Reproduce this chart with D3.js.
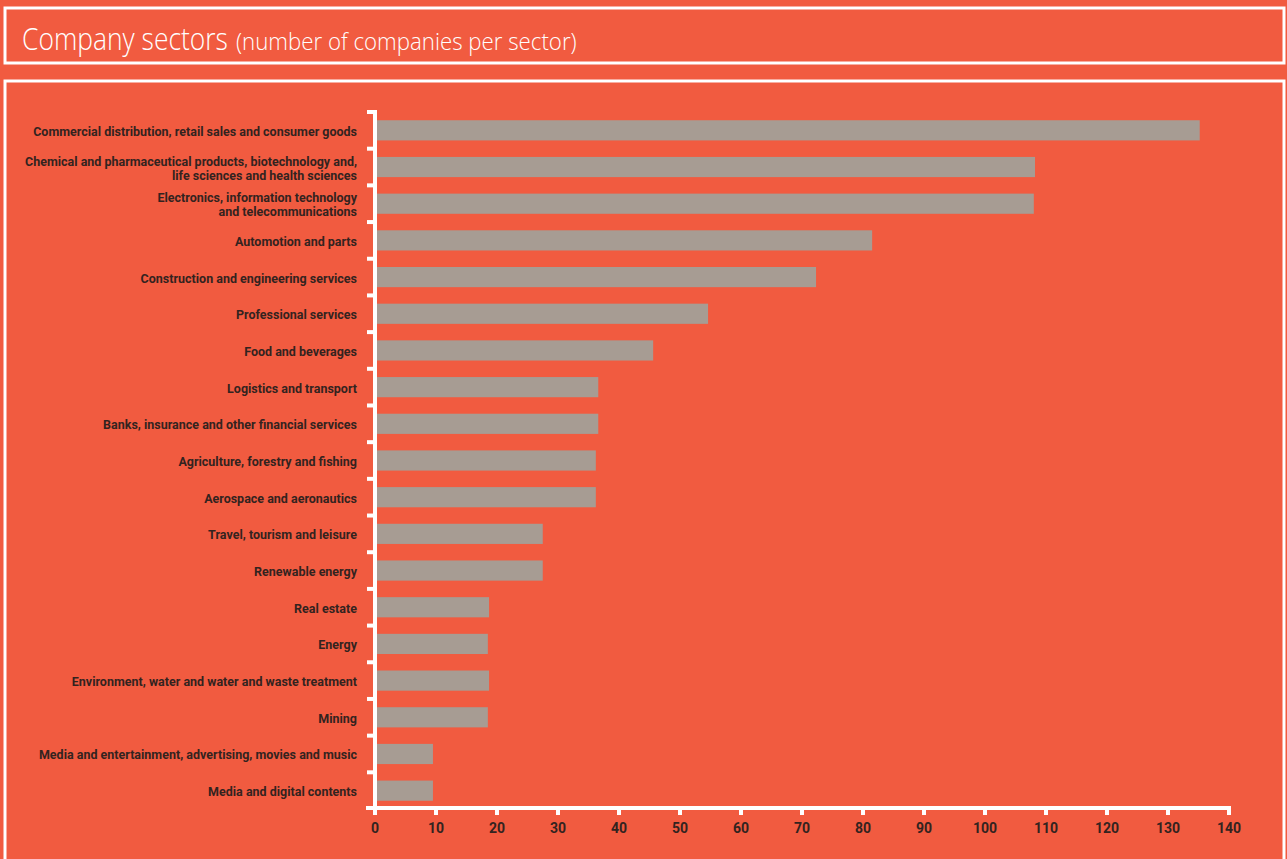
<!DOCTYPE html>
<html>
<head>
<meta charset="utf-8">
<script src="https://cdn.jsdelivr.net/npm/d3@7"></script>
<style>
  html, body { margin: 0; padding: 0; background: #F15B40; overflow: hidden; }
  svg { display: block; }
</style>
</head>
<body>
<svg id="chart" width="1287" height="859"></svg>
<script>
'use strict';

// sectors, top to bottom (multi-line labels split with |)
var sectors = [
    'Commercial distribution, retail sales and consumer goods',
    'Chemical and pharmaceutical products, biotechnology and,|life sciences and health sciences',
    'Electronics, information technology|and telecommunications',
    'Automotion and parts',
    'Construction and engineering services',
    'Professional services',
    'Food and beverages',
    'Logistics and transport',
    'Banks, insurance and other financial services',
    'Agriculture, forestry and fishing',
    'Aerospace and aeronautics',
    'Travel, tourism and leisure',
    'Renewable energy',
    'Real estate',
    'Energy',
    'Environment, water and water and waste treatment',
    'Mining',
    'Media and entertainment, advertising, movies and music',
    'Media and digital contents'
];

// number of companies
var companies = [135.2, 108.2, 108.0, 81.5, 72.3, 54.6, 45.6, 36.6, 36.6, 36.2,
                 36.2, 27.5, 27.5, 18.7, 18.5, 18.7, 18.5, 9.5, 9.5];

var xTicks = [0, 10, 20, 30, 40, 50, 60, 70, 80, 90, 100, 110, 120, 130, 140];

var barColor = '#A79C93',
    ink = '#33231F';

var svg = d3.select('#chart');

// frames
svg.append('rect')
    .attr('x', 5).attr('y', 8).attr('width', 1279).attr('height', 55)
    .attr('fill', 'none').attr('stroke', '#fff').attr('stroke-width', 3);
svg.append('rect')
    .attr('x', 5).attr('y', 81).attr('width', 1279).attr('height', 800)
    .attr('fill', 'none').attr('stroke', '#fff').attr('stroke-width', 3);

// title: squeeze each part to the narrow face of the original
function squeezed(str, size, left, width) {
    var t = svg.append('text')
        .attr('fill', '#fff')
        .style('font-family', '"Open Sans", sans-serif')
        .style('font-weight', 300)
        .style('font-size', size + 'px')
        .text(str);
    var w = t.node().getComputedTextLength();
    t.attr('transform', 'translate(' + left + ',50) scale(' + (width / w) + ',1)');
}
squeezed('Company sectors', 32, 22, 206);
squeezed('(number of companies per sector)', 23.5, 236, 341);

// scales
var x = d3.scaleLinear().domain([0, 140]).range([375, 1229]);
var y = d3.scaleBand()
    .domain(d3.range(sectors.length))
    .range([112, 809])
    .paddingInner(0.45)
    .paddingOuter(0.225);

// bars
svg.append('g').selectAll('rect')
    .data(companies)
    .enter().append('rect')
    .attr('x', x(0))
    .attr('y', function (d, i) { return y(i); })
    .attr('width', function (d) { return x(d) - x(0); })
    .attr('height', y.bandwidth())
    .attr('fill', barColor);

// y labels
var labels = svg.append('g')
    .style('font-family', 'Roboto, "Open Sans", sans-serif')
    .style('font-weight', 700)
    .style('font-size', '13.5px')
    .attr('fill', ink);

var lab = labels.selectAll('g')
    .data(sectors)
    .enter().append('g')
    .attr('transform', function (d, i) {
        return 'translate(357,' + (y(i) + y.bandwidth() / 2 + 1) + ')';
    });

var txt = lab.append('text')
    .attr('text-anchor', 'end');

txt.each(function (d) {
    var lines = d.split('|');
    var t = d3.select(this);
    lines.forEach(function (l, j) {
        t.append('tspan')
            .attr('x', 0)
            .attr('y', (j - (lines.length - 1) / 2) * 14 + 4.5)
            .text(l);
    });
});

var firstW = txt.node().getComputedTextLength();
var k = 324 / firstW;
txt.attr('transform', 'scale(' + k + ',1)');

// y axis (ticks at band boundaries)
var step = y.step();
var yAxis = svg.append('g');
yAxis.append('line')
    .attr('x1', x(0)).attr('x2', x(0))
    .attr('y1', 110).attr('y2', 808)
    .attr('stroke', '#fff').attr('stroke-width', 4);
yAxis.selectAll('line.tick')
    .data(d3.range(sectors.length))
    .enter().append('line')
    .attr('class', 'tick')
    .attr('x1', x(0) - 8).attr('x2', x(0))
    .attr('y1', function (i) { return y.range()[0] + i * step; })
    .attr('y2', function (i) { return y.range()[0] + i * step; })
    .attr('stroke', '#fff').attr('stroke-width', 4);

// x axis
var xAxis = svg.append('g');
xAxis.append('line')
    .attr('x1', 366).attr('x2', x(140) + 2)
    .attr('y1', 808).attr('y2', 808)
    .attr('stroke', '#fff').attr('stroke-width', 4);
xAxis.selectAll('line.tick')
    .data(xTicks)
    .enter().append('line')
    .attr('class', 'tick')
    .attr('x1', function (d) { return x(d); })
    .attr('x2', function (d) { return x(d); })
    .attr('y1', 808).attr('y2', 815)
    .attr('stroke', '#fff').attr('stroke-width', 4);
xAxis.selectAll('text')
    .data(xTicks)
    .enter().append('text')
    .attr('x', function (d) { return x(d); })
    .attr('y', 833)
    .attr('text-anchor', 'middle')
    .attr('fill', ink)
    .style('font-family', 'Roboto, "Open Sans", sans-serif')
    .style('font-weight', 700)
    .style('font-size', '14px')
    .text(function (d) { return d; });
</script>
</body>
</html>
